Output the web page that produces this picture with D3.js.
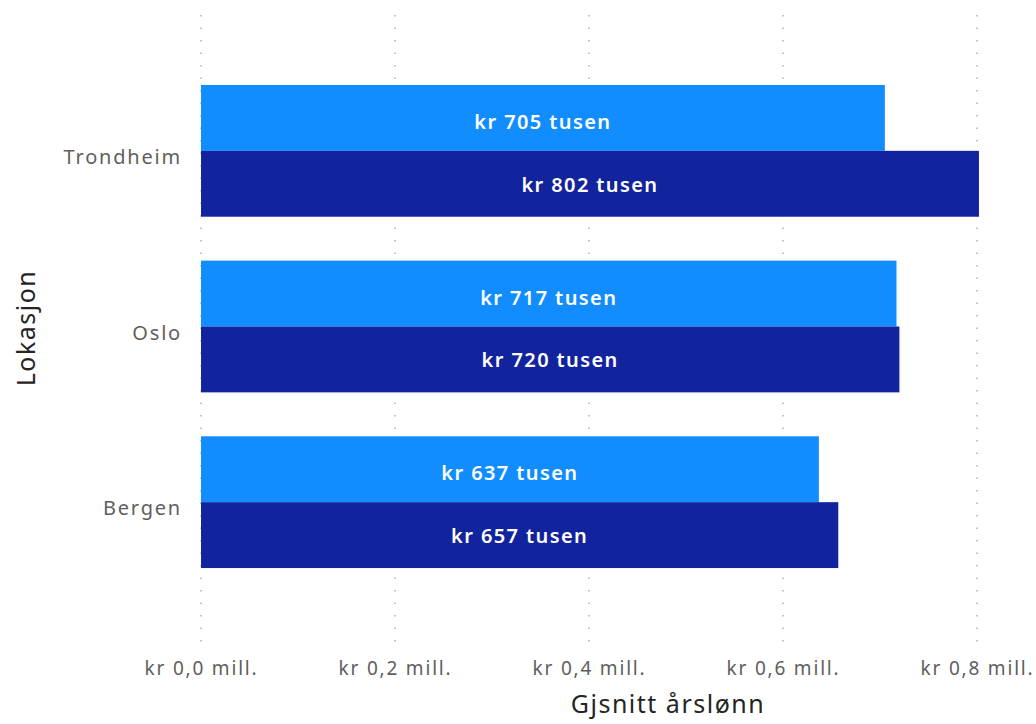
<!DOCTYPE html>
<html><head><meta charset="utf-8">
<script src="https://cdn.jsdelivr.net/npm/d3@7"></script>
<style>body{margin:0;background:#fff;} svg{display:block;}</style>
</head><body>
<svg id="chart" width="1036" height="724"></svg>
<script>
const categories = ["Trondheim", "Oslo", "Bergen"];
const seriesNames = ["Serie 1", "Serie 2"];
const seriesLight = [705, 717, 637];   // tusen kr
const seriesDark = [802, 720, 657];    // tusen kr
const tickValues = [0, 0.2, 0.4, 0.6, 0.8];
const tickLabels = ["kr 0,0 mill.", "kr 0,2 mill.", "kr 0,4 mill.", "kr 0,6 mill.", "kr 0,8 mill."];
const xTitle = "Gjsnitt årslønn";
const yTitle = "Lokasjon";

const colors = ["#118DFF", "#12239E"];
const labelShift = [11, 8];
const font = "'Noto Sans', 'Open Sans', sans-serif";

const svg = d3.select("#chart");
const x = d3.scaleLinear().domain([0, 0.8]).range([201, 977]);
const y = d3.scaleBand().domain(categories).range([63, 590]).paddingInner(0.25).paddingOuter(0.125);
const ySub = d3.scaleBand().domain(seriesNames).range([0, y.bandwidth()]);

// gridlines
svg.append("g").selectAll("line").data(tickValues).join("line")
  .attr("x1", d => x(d)).attr("x2", d => x(d))
  .attr("y1", 15).attr("y2", 646)
  .attr("stroke", "#b3b0ad").attr("stroke-width", 1.5)
  .attr("stroke-dasharray", "1.5,11");

const rows = categories.map((c, i) => ({cat: c, vals: [seriesLight[i], seriesDark[i]]}));
const g = svg.append("g").selectAll("g").data(rows).join("g")
  .attr("transform", d => `translate(0,${y(d.cat)})`);

g.selectAll("rect").data(d => d.vals.map((v, j) => ({v, s: seriesNames[j], j}))).join("rect")
  .attr("x", x(0)).attr("y", d => ySub(d.s))
  .attr("width", d => x(d.v / 1000) - x(0)).attr("height", ySub.bandwidth())
  .attr("fill", d => colors[d.j]);

g.selectAll("text").data(d => d.vals.map((v, j) => ({v, s: seriesNames[j], j}))).join("text")
  .attr("x", d => (x(0) + x(d.v / 1000)) / 2)
  .attr("y", d => ySub(d.s) + ySub.bandwidth() / 2 + labelShift[d.j])
  .attr("text-anchor", "middle")
  .attr("fill", "#fff").attr("font-family", font).attr("font-size", 20).attr("font-weight", 600)
  .attr("letter-spacing", 1.4)
  .text(d => `kr ${d.v} tusen`);

// y axis labels
const yAxis = d3.axisLeft(y).tickSize(0).tickPadding(0);
const ya = svg.append("g").attr("transform", "translate(182,0)").call(yAxis);
ya.select(".domain").remove();
ya.selectAll("text").attr("dy", 13).attr("font-family", font).attr("font-size", 20)
  .attr("letter-spacing", 1.8).attr("fill", "#605E5C");

// x axis labels
const xAxis = d3.axisBottom(x).tickValues(tickValues).tickSize(0).tickPadding(0)
  .tickFormat((d, i) => tickLabels[i]);
const xa = svg.append("g").attr("transform", "translate(0,675)").call(xAxis);
xa.select(".domain").remove();
xa.selectAll("text").attr("dy", 0).attr("font-family", font).attr("font-size", 19)
  .attr("letter-spacing", 1.8).attr("fill", "#605E5C");

svg.append("text").attr("x", 668).attr("y", 713).attr("text-anchor", "middle")
  .attr("font-family", font).attr("font-size", 25).attr("letter-spacing", 1.5)
  .attr("fill", "#252423").text(xTitle);
svg.append("text").attr("transform", "translate(35,328) rotate(-90)").attr("text-anchor", "middle")
  .attr("font-family", font).attr("font-size", 25).attr("letter-spacing", 1.5)
  .attr("fill", "#252423").text(yTitle);
</script>
</body></html>
